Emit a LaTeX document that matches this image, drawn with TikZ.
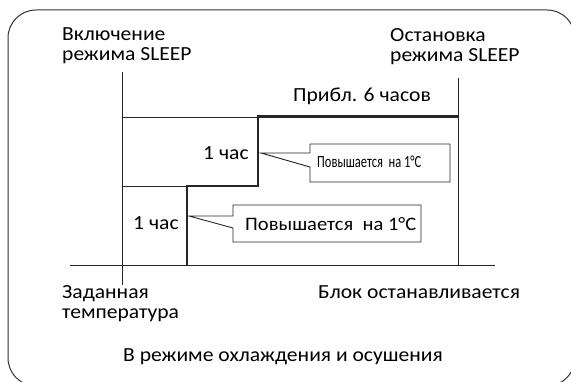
\documentclass[tikz,border=0pt]{standalone}
\usepackage{fontspec}
\setmainfont[FakeStretch=1.08]{Carlito}
\begin{document}
\begin{tikzpicture}[x=1pt,y=-1pt,
  thin line/.style={line width=0.9pt,draw=black!85},
  thick line/.style={line width=2.2pt,draw=black!85},
  lbl/.style={inner sep=0pt,font=\fontsize{20}{20}\selectfont},
  lblL/.style={lbl,anchor=base west},
  lblML/.style={lbl,anchor=north west,align=left},
  small/.style={inner sep=0pt,anchor=base west,font=\fontsize{19}{20}\selectfont}]
\useasboundingbox (0,0) rectangle (571,382);
\begin{scope}
\clip (0,0) rectangle (571,382);
\draw[line width=1pt,draw=black!80,rounded corners=28pt] (8,10) rectangle (575,386);
\end{scope}
% axes
\coordinate (vlTop) at (122,72);
\coordinate (vlBot) at (122,285);
\coordinate (vrTop) at (458,78);
\coordinate (vrBot) at (458,265);
\coordinate (hL) at (70,265);
\coordinate (hR) at (495,265);
\draw[thin line] (vlTop) -- (vlBot);
\draw[thin line] (vrTop) -- (vrBot);
\draw[thin line] (hL) -- (hR);
% steps
\draw[thin line] (122,117) -- (258,117);
\draw[thin line] (122,186) -- (187,186);
\draw[thick line] (187,265) -- (187,186) -- (258,186) -- (258,116.5) -- (458,116.5);
% callout 1
\coordinate (t1) at (261,153);
\draw[thin line] (t1) -- (310,153) -- (310,144) -- (450,144) -- (450,182) -- (310,182) -- (310,167) -- cycle;
\node[small,font=\fontsize{17}{18}\selectfont] (c1) at (317,168) {\scalebox{0.68}[1]{Повышается\ \ на 1°C}};
% callout 2
\coordinate (t2) at (189,216);
\draw[thin line] (t2) -- (233,216) -- (233,205) -- (421,205) -- (421,242) -- (233,242) -- (233,228) -- cycle;
\node[small] (c2) at (245,231) {Повышается\ \ на 1°C};
% labels
\node[lblML] (on) at (62,27.2) {Включение\\режима SLEEP};
\node[lblML] (off) at (390,28) {Остановка\\режима SLEEP};
\node[lblL] (six) at (293,102) {Прибл. 6 часов};
\node[lblL] (h1) at (203,160) {1 час};
\node[lblL] (h2) at (133,230) {1 час};
\node[lblML] (set) at (62,285.5) {Заданная\\температура};
\node[lblL] (stop) at (318,299) {Блок останавливается};
\node[lblL] (mode) at (123,362) {В режиме охлаждения и осушения};
\end{tikzpicture}
\end{document}
